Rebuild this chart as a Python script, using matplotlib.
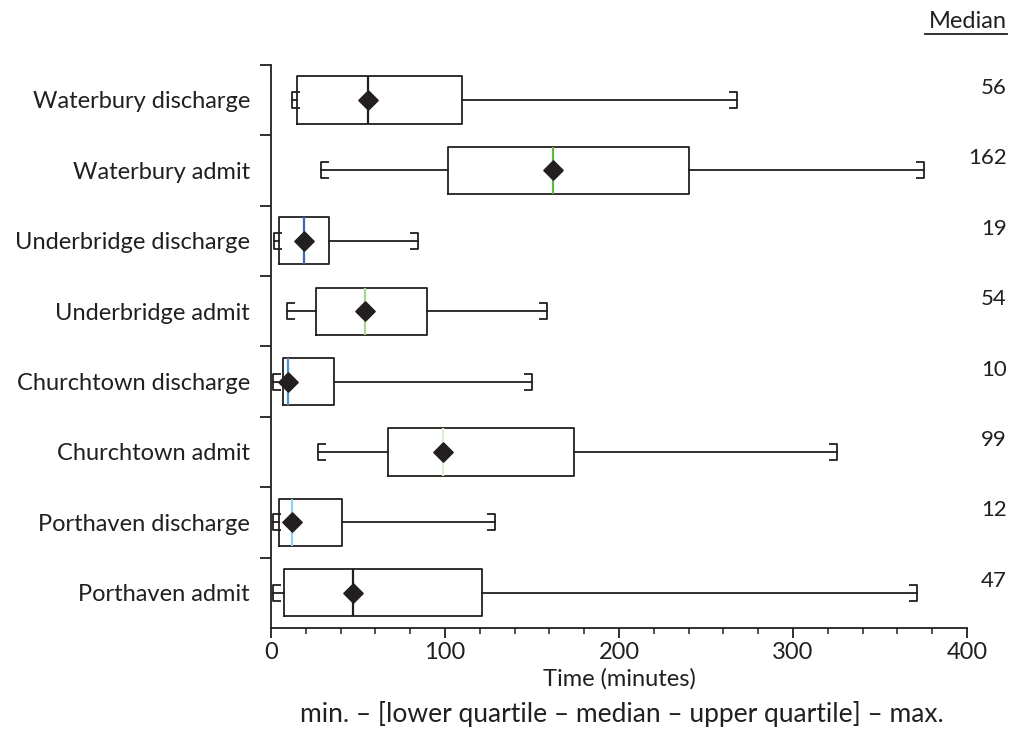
import matplotlib.pyplot as plt
from matplotlib.path import Path
from matplotlib.ticker import MultipleLocator, FixedLocator, NullFormatter

plt.rcParams['font.family'] = ['Lato', 'DejaVu Sans']

# top to bottom
labels = ['Waterbury discharge', 'Waterbury admit', 'Underbridge discharge', 'Underbridge admit',
          'Churchtown discharge', 'Churchtown admit', 'Porthaven discharge', 'Porthaven admit']
mins = [12, 29, 2, 9, 1, 27, 1, 1]
q1s = [15, 102, 4.6, 25.7, 6.7, 67, 4.4, 7.7]
meds = [56, 162, 19, 54, 10, 99, 12, 47]
q3s = [110, 240, 33.3, 89.7, 36.4, 174.3, 41, 121]
maxs = [268, 375, 84.5, 158.4, 149.8, 325, 128.7, 371]
med_colors = ['#231f20', '#5cb946', '#3b68b5', '#a4d88f', '#4f93d0', '#dcefcf', '#8fcff0', '#231f20']

ink = '#231f20'
n = len(labels)
pos = [n - 1 - i for i in range(n)]

stats = []
for i in range(n):
    stats.append({'label': labels[i], 'whislo': mins[i], 'q1': q1s[i], 'med': meds[i],
                  'q3': q3s[i], 'whishi': maxs[i], 'mean': meds[i], 'fliers': []})

fig = plt.figure(figsize=(10.11, 7.47), dpi=100)
ax = fig.add_axes([0.268, 0.1593, 0.6885, 0.754])

bp = ax.bxp(stats, positions=pos, widths=0.67, orientation='horizontal',
            showcaps=False, showfliers=False, showmeans=True,
            boxprops=dict(color=ink, linewidth=1.3),
            whiskerprops=dict(color=ink, linewidth=1.3),
            medianprops=dict(linewidth=1.6),
            meanprops=dict(marker=(4, 0, 0), markersize=14, markerfacecolor=ink,
                           markeredgecolor=ink, zorder=5))
for line, c in zip(bp['medians'], med_colors):
    line.set_color(c)

# bracket-shaped caps
lo_cap = Path([(1, 1), (0, 1), (0, -1), (1, -1)])
hi_cap = Path([(-1, 1), (0, 1), (0, -1), (-1, -1)])
ax.plot(mins, pos, linestyle='none', marker=lo_cap, markersize=11, markeredgewidth=1.3,
        markeredgecolor=ink, markerfacecolor='none')
ax.plot(maxs, pos, linestyle='none', marker=hi_cap, markersize=11, markeredgewidth=1.3,
        markeredgecolor=ink, markerfacecolor='none')

# median values on the right
for i in range(n):
    ax.text(1.0575, pos[i] + 0.17, str(meds[i]), transform=ax.get_yaxis_transform(),
            ha='right', va='center', fontsize=16, color=ink)
ax.text(1.0575, 1.058, 'Median', transform=ax.transAxes, ha='right', va='bottom',
        fontsize=17, color=ink)
ax.plot([0.94, 1.058], [1.0555, 1.0555], transform=ax.transAxes, color=ink,
        linewidth=1.3, clip_on=False)

ax.set_xlim(0, 400)
ax.set_ylim(-0.5, n - 0.5)
ax.xaxis.set_major_locator(MultipleLocator(100))
ax.xaxis.set_minor_locator(MultipleLocator(20))
ax.yaxis.set_major_locator(FixedLocator([p + 0.5 for p in range(n)]))
ax.yaxis.set_major_formatter(NullFormatter())
ax.yaxis.set_minor_locator(FixedLocator(pos))
ax.set_yticklabels(labels, minor=True)
ax.tick_params(axis='y', which='major', length=8, width=1.3, color=ink)
ax.tick_params(axis='y', which='minor', length=0, pad=15, labelsize=17, labelcolor=ink)
ax.tick_params(axis='x', which='major', length=7, width=1.3, color=ink, labelsize=17,
               labelcolor=ink, pad=3)
ax.tick_params(axis='x', which='minor', length=4.5, width=1.1, color=ink)

for s in ['top', 'right']:
    ax.spines[s].set_visible(False)
for s in ['left', 'bottom']:
    ax.spines[s].set_linewidth(1.3)
    ax.spines[s].set_color(ink)

ax.set_xlabel('Time (minutes)', fontsize=17, color=ink, labelpad=4)
fig.text(0.615, 0.044, 'min. – [lower quartile – median – upper quartile] – max.',
         ha='center', va='center', fontsize=19, color=ink)

fig.savefig('out.png', dpi=100)
